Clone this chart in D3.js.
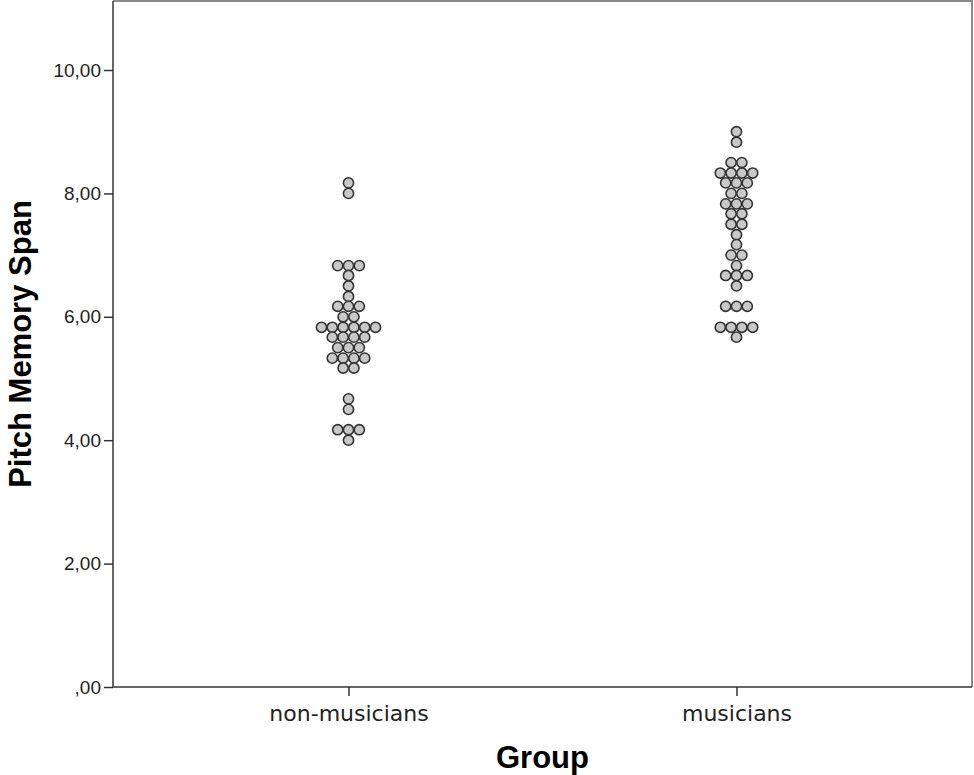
<!DOCTYPE html>
<html>
<head>
<meta charset="utf-8">
<script src="https://cdn.jsdelivr.net/npm/d3@7"></script>
<style>
  html, body { margin: 0; padding: 0; background: #fff; }
  svg { display: block; }
</style>
</head>
<body>
<svg id="chart" width="974" height="775"></svg>
<script>
// ---- data (values are in sixths of a unit) ----
const groups = ["non-musicians", "musicians"];
const yTicks = [0, 2, 4, 6, 8, 10];
const yTickLabels = [",00", "2,00", "4,00", "6,00", "8,00", "10,00"];
const nonMusicians = [
  8.17, 8.00,
  6.83, 6.83, 6.83, 6.67, 6.50, 6.33,
  6.17, 6.17, 6.17, 6.00, 6.00,
  5.83, 5.83, 5.83, 5.83, 5.83, 5.83,
  5.67, 5.67, 5.67, 5.67,
  5.50, 5.50, 5.50,
  5.33, 5.33, 5.33, 5.33,
  5.17, 5.17,
  4.67, 4.50,
  4.17, 4.17, 4.17, 4.00
];
const musicians = [
  9.00, 8.83,
  8.50, 8.50,
  8.33, 8.33, 8.33, 8.33,
  8.17, 8.17, 8.17,
  8.00, 8.00,
  7.83, 7.83, 7.83,
  7.67, 7.67,
  7.50, 7.50,
  7.33, 7.17,
  7.00, 7.00,
  6.83,
  6.67, 6.67, 6.67,
  6.50,
  6.17, 6.17, 6.17,
  5.83, 5.83, 5.83, 5.83,
  5.67
];
const xTitle = "Group";
const yTitle = "Pitch Memory Span";

// ---- layout ----
const pLeft = 113, pRight = 972, pTop = 1, pBottom = 687;
const svg = d3.select("#chart");

const x = d3.scalePoint().domain(groups).range([pLeft, pRight]).padding(0.607);
const y = d3.scaleLinear().domain([0, 10]).range([pBottom, 70]);

// frame (top/right)
svg.append("path")
  .attr("d", `M${pLeft},${pTop}H${pRight}V${pBottom}`)
  .attr("fill", "none").attr("stroke", "#8a8a8a").attr("stroke-width", 2);

// y axis
const yAxis = svg.append("g")
  .attr("transform", `translate(${pLeft},0)`)
  .call(d3.axisLeft(y).tickValues(yTicks).tickSize(9).tickPadding(3)
        .tickFormat((d, i) => yTickLabels[i]));
yAxis.select(".domain").remove();
yAxis.append("line").attr("x1", 0).attr("x2", 0).attr("y1", pTop).attr("y2", pBottom)
  .attr("stroke", "#333").attr("stroke-width", 1.5);
yAxis.selectAll(".tick line").attr("stroke", "#333").attr("stroke-width", 1.5);
yAxis.selectAll(".tick text")
  .attr("fill", "#222").style("font-family", "'Liberation Sans', Arial, sans-serif").style("font-size", "19px");

// x axis
const xAxis = svg.append("g")
  .attr("transform", `translate(0,${pBottom})`)
  .call(d3.axisBottom(x).tickSize(9).tickPadding(9));
xAxis.select(".domain").remove();
xAxis.append("line").attr("x1", pLeft).attr("x2", pRight).attr("y1", 0).attr("y2", 0)
  .attr("stroke", "#333").attr("stroke-width", 1.5);
xAxis.selectAll(".tick line").attr("stroke", "#333").attr("stroke-width", 1.5);
xAxis.selectAll(".tick text")
  .attr("fill", "#222").style("font-family", "'DejaVu Sans', sans-serif").style("font-size", "22px");

// ---- dots ----
const dx = 10.8; // horizontal spacing between stacked dots
function layout(group, values) {
  const bins = d3.group(values, v => Math.round(v * 6));
  const out = [];
  for (const [, vals] of bins) {
    const n = vals.length;
    vals.forEach((v, i) => out.push({ group, v, off: (i - (n - 1) / 2) * dx }));
  }
  return out;
}
const dots = layout(groups[0], nonMusicians).concat(layout(groups[1], musicians));

svg.append("g").selectAll("circle").data(dots).join("circle")
  .attr("cx", d => x(d.group) + d.off)
  .attr("cy", d => y(d.v))
  .attr("r", 5.1)
  .attr("fill", "#c8c8c8")
  .attr("stroke", "#333")
  .attr("stroke-width", 1.6);

// ---- titles ----
svg.append("text")
  .attr("x", (pLeft + pRight) / 2).attr("y", 768)
  .attr("text-anchor", "middle")
  .style("font-family", "'Liberation Sans', Arial, sans-serif")
  .style("font-weight", "bold").style("font-size", "31px")
  .attr("fill", "#000")
  .text(xTitle);

svg.append("text")
  .attr("transform", `translate(31,${(pTop + pBottom) / 2}) rotate(-90)`)
  .attr("text-anchor", "middle")
  .style("font-family", "'Liberation Sans', Arial, sans-serif")
  .style("font-weight", "bold").style("font-size", "31px")
  .attr("fill", "#000")
  .text(yTitle);
</script>
</body>
</html>
